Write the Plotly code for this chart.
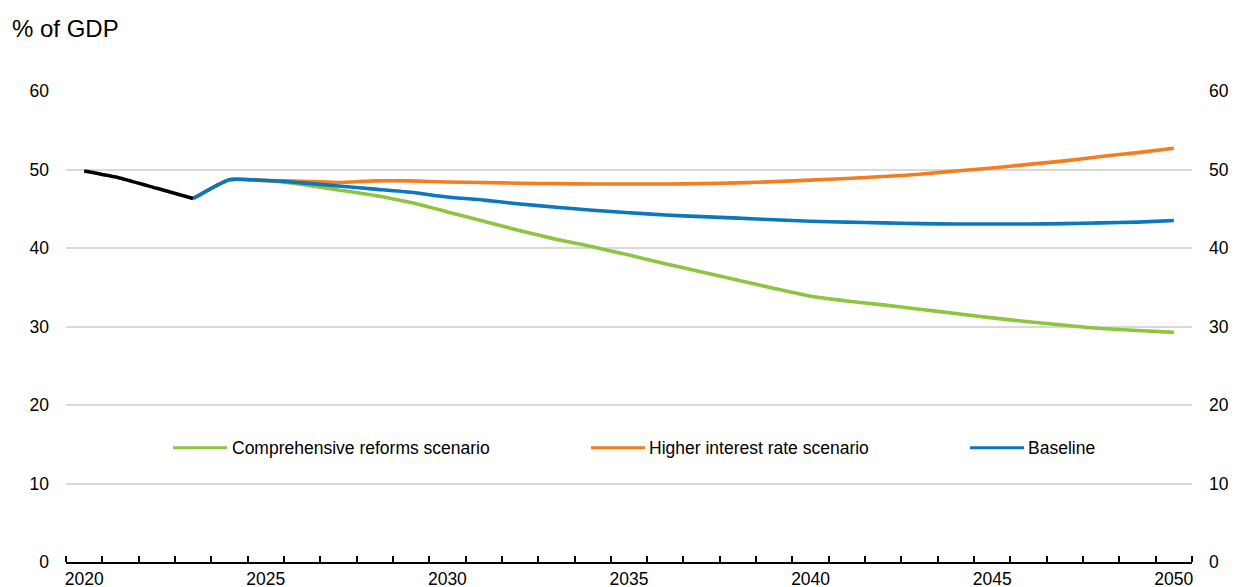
import plotly.graph_objects as go

# ---------------- data ----------------
hist_years = [2020, 2021, 2022, 2023]
historical = [49.8, 48.9, 47.6, 46.3]

scen_years = list(range(2023, 2051))
baseline = [46.3, 48.7, 48.6, 48.3, 47.9, 47.5, 47.1, 46.5, 46.1, 45.6,
            45.2, 44.8, 44.5, 44.2, 44.0, 43.8, 43.6, 43.4, 43.3, 43.2,
            43.1, 43.05, 43.05, 43.05, 43.1, 43.2, 43.3, 43.5]
higher_rate = [46.3, 48.7, 48.6, 48.5, 48.35, 48.55, 48.55, 48.4, 48.35, 48.25,
               48.2, 48.15, 48.15, 48.15, 48.2, 48.3, 48.45, 48.65, 48.85, 49.1,
               49.4, 49.8, 50.2, 50.65, 51.1, 51.65, 52.15, 52.7]
reforms = [46.3, 48.7, 48.6, 48.1, 47.4, 46.7, 45.8, 44.6, 43.4, 42.2,
           41.1, 40.15, 39.1, 38.0, 36.95, 35.9, 34.85, 33.85, 33.25, 32.75,
           32.2, 31.65, 31.1, 30.6, 30.15, 29.75, 29.5, 29.25]

x_tick_years = [2020, 2025, 2030, 2035, 2040, 2045, 2050]
y_ticks = [0, 10, 20, 30, 40, 50, 60]

series_names = ["Comprehensive reforms scenario", "Higher interest rate scenario", "Baseline"]
series_colors = ["#8CC63F", "#F47D20", "#0A77BF"]

# ---------------- style ----------------
FONT = "Liberation Sans, Arial, sans-serif"
W, H = 1234, 587
L, R, T, B = 66, 42, 91, 25
PW, PH = W - L - R, H - T - B


def px_x(p):
    return (p - L) / PW


def px_y(p):
    return (H - B - p) / PH


LW = 3.6
fig = go.Figure()
for name, ys, col in zip(series_names, [reforms, higher_rate, baseline], series_colors):
    fig.add_trace(go.Scatter(x=scen_years, y=ys, mode="lines", name=name,
                             line=dict(color=col, width=LW, shape="spline", smoothing=0.5),
                             showlegend=False))
fig.add_trace(go.Scatter(x=hist_years, y=historical, mode="lines", name="Historical",
                         line=dict(color="black", width=LW, shape="spline", smoothing=0.5),
                         showlegend=False))
# invisible trace to carry the right-hand axis
fig.add_trace(go.Scatter(x=scen_years, y=baseline, yaxis="y2", mode="lines",
                         line=dict(color="rgba(0,0,0,0)", width=0), hoverinfo="skip",
                         showlegend=False))

# manual legend
legend_items = [(173, 227, 232), (591, 645, 649), (970, 1024, 1028)]
shapes = []
annotations = []
ly = px_y(447.7)
for (x0, x1, xt), name, col in zip(legend_items, series_names, series_colors):
    shapes.append(dict(type="line", xref="paper", yref="paper", x0=px_x(x0), x1=px_x(x1),
                       y0=ly, y1=ly, line=dict(color=col, width=3)))
    annotations.append(dict(xref="paper", yref="paper", x=px_x(xt), y=ly, text=name,
                            showarrow=False, xanchor="left", yanchor="middle",
                            xshift=-2,
                            font=dict(family=FONT, size=17.5, color="black")))

annotations.append(dict(xref="paper", yref="paper", x=px_x(12), y=px_y(28), text="% of GDP",
                        showarrow=False, xanchor="left", yanchor="middle", xshift=-2,
                        font=dict(family=FONT, size=24, color="black")))

TICKFONT = dict(family=FONT, size=17.5, color="black")
fig.update_layout(
    width=W, height=H,
    margin=dict(l=L, r=R, t=T, b=B, pad=0),
    paper_bgcolor="white", plot_bgcolor="white",
    font=dict(family=FONT, size=17.5, color="black"),
    shapes=shapes, annotations=annotations,
    xaxis=dict(range=[2019.5, 2050.5], tickmode="array", tickvals=x_tick_years,
               ticktext=[str(v) for v in x_tick_years], ticks="", showgrid=False,
               zeroline=False, showline=True, linecolor="black", linewidth=2,
               tickfont=TICKFONT, ticklabelstandoff=0, automargin=False,
               minor=dict(tickmode="array", tickvals=[y - 0.5 for y in range(2020, 2052)],
                          ticks="inside", ticklen=6, tickwidth=1.5, tickcolor="black",
                          showgrid=False)),
    yaxis=dict(range=[0, 60], tickmode="array", tickvals=y_ticks, ticks="",
               showgrid=True, gridcolor="#D9D9D9", gridwidth=1.5, zeroline=False,
               showline=False, tickfont=TICKFONT, ticklabelstandoff=16, automargin=False),
    yaxis2=dict(range=[0, 60], tickmode="array", tickvals=y_ticks, ticks="",
                overlaying="y", side="right", showgrid=False, zeroline=False,
                showline=False, tickfont=TICKFONT, ticklabelstandoff=16, automargin=False),
)

fig.write_html("out.html", config={"displayModeBar": False},
               post_script="document.body.style.margin='0px';document.body.style.padding='0px';")
